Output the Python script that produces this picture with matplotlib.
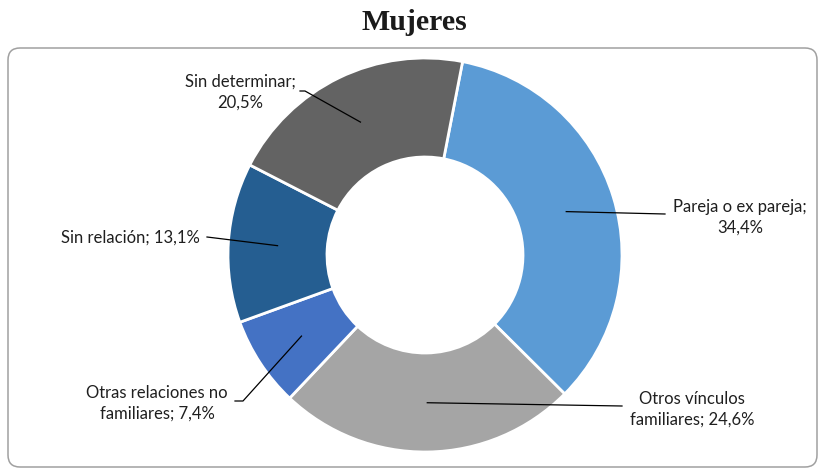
import matplotlib
matplotlib.use("Agg")
import matplotlib.pyplot as plt
import numpy as np
from matplotlib.patches import FancyBboxPatch

categories = ["Pareja o ex pareja", "Otros vínculos familiares", "Otras relaciones no familiares",
              "Sin relación", "Sin determinar"]
values = [34.4, 24.6, 7.4, 13.1, 20.5]
labels = ["Pareja o ex pareja;\n34,4%", "Otros vínculos\nfamiliares; 24,6%",
          "Otras relaciones no\nfamiliares; 7,4%", "Sin relación; 13,1%",
          "Sin determinar;\n20,5%"]
colors = ["#5B9BD5", "#A5A5A5", "#4472C4", "#255E91", "#636363"]

W, H = 819, 470
# label text position, leader bend point, leader end point (pixel coords, y down)
label_pos = [(740, 217), (692, 409), (157, 403), (130, 238), (240, 92)]
line_bend = [(665, 214), (622, 406), (243, 401), (207, 237), (305, 91)]
line_end = [(665, 214), (622, 406), (235, 401), (207, 237), (300, 91)]

fig = plt.figure(figsize=(W / 100, H / 100), dpi=100)
ax = fig.add_axes([0, 0, 1, 1])

cx, cy, R = 425, H - 255, 197
wedges, _ = ax.pie(values, colors=colors, startangle=79, counterclock=False,
                   radius=R, center=(cx, cy),
                   wedgeprops=dict(width=99, edgecolor="white", linewidth=2))
ax.set_xlim(0, W)
ax.set_ylim(0, H)
ax.set_aspect("auto")
ax.axis("off")

frame = FancyBboxPatch((8, 3), 809, 419, boxstyle="round,pad=0,rounding_size=12",
                       facecolor="none", edgecolor="#A0A0A0", linewidth=1.1,
                       transform=ax.transData, zorder=0)
ax.add_patch(frame)

for w, lab, (tx, ty), (bx, by), (ex, ey) in zip(wedges, labels, label_pos, line_bend, line_end):
    ang = np.deg2rad((w.theta1 + w.theta2) / 2)
    r = R * 0.75
    sx, sy = cx + r * np.cos(ang), cy + r * np.sin(ang)
    ax.plot([sx, bx, ex], [sy, H - by, H - ey], color="black", linewidth=0.9, zorder=3)
    ax.text(tx, H - ty, lab, ha="center", va="center", fontsize=12, family="Lato",
            color="#1f1f1f", linespacing=1.35, zorder=4)

ax.text(414, H - 22, "Mujeres", ha="center", va="center", fontsize=21.5,
        family="Liberation Serif", fontweight="bold", color="#1a1a1a")

fig.savefig("out.png", dpi=100)
